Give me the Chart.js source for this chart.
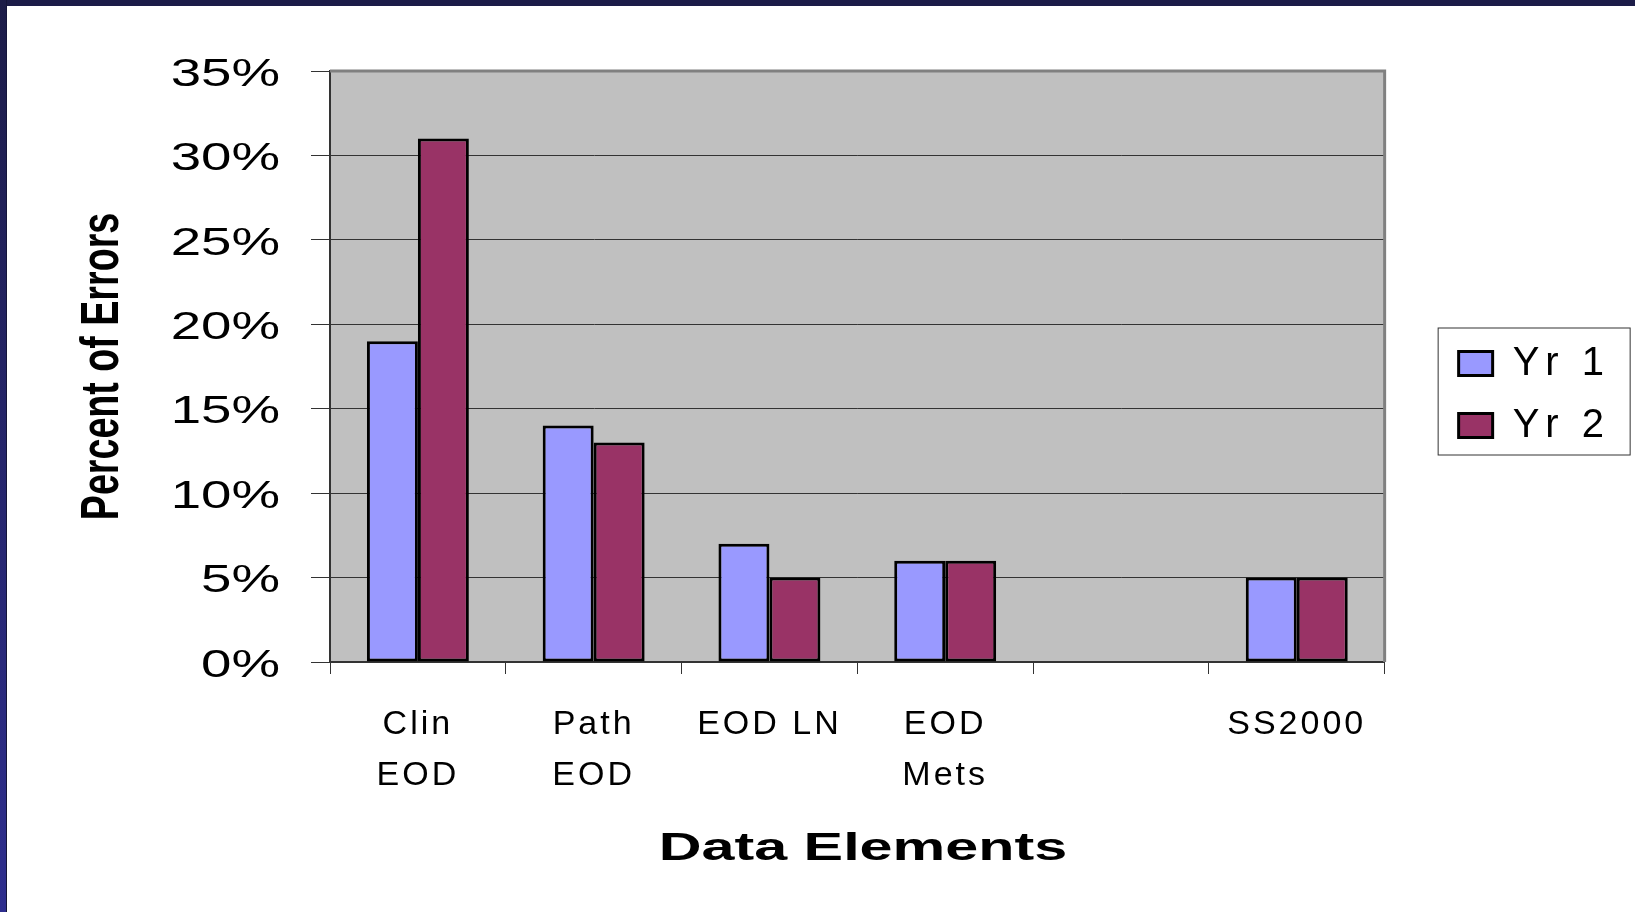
<!DOCTYPE html>
<html>
<head>
<meta charset="utf-8">
<script src="https://cdn.jsdelivr.net/npm/chart.js@4.4.1/dist/chart.umd.min.js"></script>
<style>
  html, body { margin: 0; padding: 0; background: #fff; }
  .page { position: relative; width: 1635px; height: 912px; overflow: hidden; background: #fff; }
  .frameTop { position: absolute; left: 0; top: 0; width: 1635px; height: 6px; background: #1c1c48; }
  .frameLeft {
    position: absolute; left: 0; top: 0; width: 7px; height: 912px;
    background: linear-gradient(#1c1c48, #2e2e8e);
    border-right: 1px solid #15153a; box-sizing: border-box;
  }
  canvas { position: absolute; left: 0; top: 0; }
</style>
</head>
<body>
<div class="page">
  <div class="frameTop"></div>
  <div class="frameLeft"></div>
  <canvas id="chart" width="1635" height="912"></canvas>
</div>
<script>
const categories = [['Clin', 'EOD'], ['Path', 'EOD'], 'EOD LN', ['EOD', 'Mets'], '', 'SS2000'];
const yr1 = [19, 14, 7, 6, null, 5];
const yr2 = [31, 13, 5, 6, null, 5];
const tickLabels = ['0%', '5%', '10%', '15%', '20%', '25%', '30%', '35%'];

const ARIAL = "Arial, 'Liberation Sans', sans-serif";

// the slide picture was stretched, so text is wider (or squashed) compared to plain Arial
function spaced(obj, method, px) {
    const orig = obj[method];
    obj[method] = function (...args) {
        const ctx = this.ctx;
        ctx.save();
        ctx.letterSpacing = px + 'px';
        orig.apply(this, args);
        ctx.restore();
    };
}

function stretched(obj, method, kx, ky, pivot) {
    const orig = obj[method];
    obj[method] = function (...args) {
        const ctx = this.ctx;
        const p = pivot(this);
        ctx.save();
        ctx.translate(p.x, p.y);
        ctx.scale(kx, ky);
        ctx.translate(-p.x, -p.y);
        orig.apply(this, args);
        ctx.restore();
    };
}

const excelLook = {
    id: 'excelLook',
    afterLayout(chart) {
        if (!chart._tweaked) {
            const y = chart.scales.y, x = chart.scales.x;
            // y labels are right aligned at (right - tickLength - padding)
            stretched(y, 'drawLabels', 1.4, 1, (s) => ({ x: s.right - 19 - 31, y: 0 }));
            stretched(y, 'drawTitle', 1, 0.71, (s) => ({ x: 0, y: (s.top + s.bottom) / 2 }));
            spaced(x, 'drawLabels', 3);
            stretched(x, 'drawTitle', 1.56, 1, (s) => ({ x: (s.left + s.right) / 2 - 10, y: 0 }));
            spaced(chart.legend, 'draw', 6);
            chart._tweaked = true;
        }
        // move the legend to where Excel put it
        const lg = chart.legend;
        lg.left += 52; lg.right += 92;
        lg.top -= 97; lg.bottom -= 97;
    },
    beforeDraw(chart) {
        const {ctx, chartArea: a} = chart;
        ctx.save();
        ctx.fillStyle = '#c0c0c0';
        ctx.fillRect(a.left, a.top, a.right - a.left, a.bottom - a.top);
        ctx.restore();
    },
    beforeDatasetsDraw(chart) {
        const {ctx, chartArea: a} = chart;
        ctx.save();
        ctx.strokeStyle = '#808080';
        ctx.lineWidth = 3;
        ctx.beginPath();
        ctx.moveTo(a.left, a.top);
        ctx.lineTo(a.right, a.top);
        ctx.lineTo(a.right, a.bottom);
        ctx.stroke();
        ctx.restore();
    },
    afterDraw(chart) {
        const hb = chart.legend.legendHitBoxes;
        if (!hb || !hb.length) return;
        const last = hb[hb.length - 1];
        const ctx = chart.ctx;
        ctx.save();
        ctx.strokeStyle = '#333';
        ctx.lineWidth = 1;
        const left = hb[0].left - 21;
        const top = hb[0].top - 16;
        ctx.strokeRect(left + 0.5, top + 0.5, 192, last.top + last.height + 9 - top);
        ctx.restore();
    }
};

const ctx = document.getElementById('chart').getContext('2d');
new Chart(ctx, {
    type: 'bar',
    data: {
        labels: categories,
        datasets: [
            {
                label: 'Yr 1',
                data: yr1,
                backgroundColor: '#9999ff',
                borderColor: '#000',
                borderWidth: 3,
                borderSkipped: false
            },
            {
                label: 'Yr 2',
                data: yr2,
                backgroundColor: '#993366',
                borderColor: '#000',
                borderWidth: 3,
                borderSkipped: false
            }
        ]
    },
    options: {
        responsive: false,
        animation: false,
        categoryPercentage: 0.58,
        barPercentage: 1.0,
        layout: { padding: { left: 0, top: 71, right: 91, bottom: 0 } },
        plugins: {
            legend: {
                position: 'right',
                labels: {
                    font: { family: ARIAL, size: 40 },
                    color: '#000',
                    boxWidth: 34,
                    boxHeight: 24,
                    padding: 22
                }
            },
            tooltip: { enabled: false }
        },
        scales: {
            x: {
                grid: { drawOnChartArea: false, tickLength: 12, color: '#333', offset: true },
                border: { color: '#333', width: 2 },
                ticks: {
                    font: { family: ARIAL, size: 34, lineHeight: 1.5 },
                    color: '#000',
                    padding: 25,
                    maxRotation: 0,
                    autoSkip: false
                },
                title: {
                    display: true,
                    text: 'Data Elements',
                    font: { family: ARIAL, size: 38, weight: 'bold' },
                    color: '#000',
                    padding: { top: 0, bottom: 40 }
                },
                afterFit: (s) => { s.height = 250; }
            },
            y: {
                min: 0,
                max: 35,
                ticks: {
                    stepSize: 5,
                    callback: (v, i) => tickLabels[i],
                    font: { family: ARIAL, size: 39 },
                    color: '#000',
                    padding: 31,
                    labelOffset: 4
                },
                grid: { color: '#333', tickLength: 19 },
                border: { color: '#333', width: 2 },
                title: {
                    display: true,
                    text: 'Percent of Errors',
                    font: { family: ARIAL, size: 53, weight: 'bold' },
                    color: '#000',
                    padding: { top: 72, bottom: 0 }
                },
                afterFit: (s) => { s.width = 330; }
            }
        }
    },
    plugins: [excelLook]
});
</script>
</body>
</html>
